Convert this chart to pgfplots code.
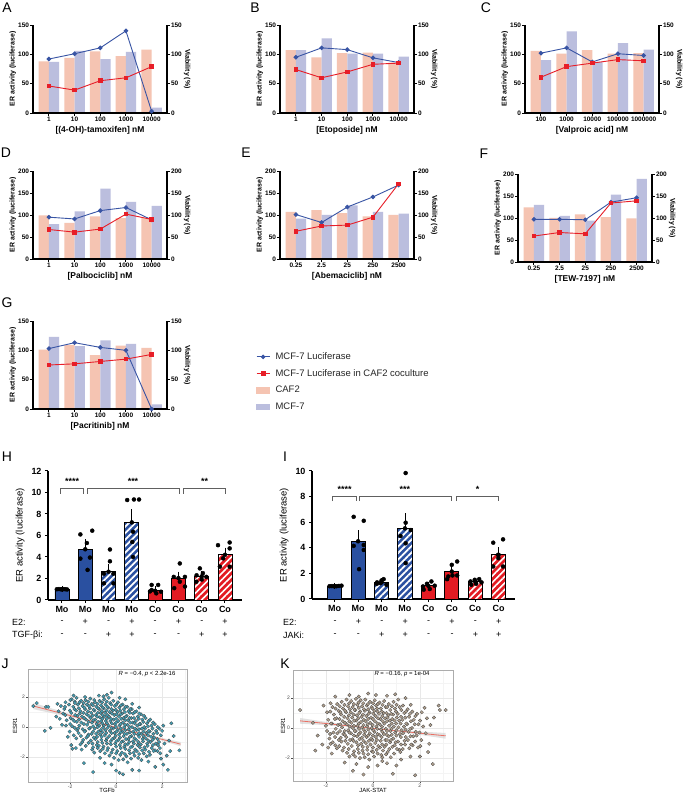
\documentclass[border=0pt]{standalone}
\usepackage{fontspec}
\setmainfont{Liberation Sans}
\usepackage{pgfplots}
\usepackage{pgfplotstable}
\pgfplotsset{compat=1.18}
\usetikzlibrary{patterns.meta}

\definecolor{caf}{RGB}{245,196,178}
\definecolor{mcf}{RGB}{187,190,222}
\definecolor{lumblue}{RGB}{56,84,164}
\definecolor{lumred}{RGB}{231,30,40}
\definecolor{barblue}{RGB}{42,80,160}
\definecolor{barred}{RGB}{227,27,35}
\definecolor{jfill}{RGB}{66,158,180}
\definecolor{kfill}{RGB}{176,160,142}
\definecolor{fit}{RGB}{234,112,100}

\newcommand\fsz[1]{\fontsize{#1}{#1}\selectfont}
\tikzset{bracket/.style={gray!75!black, line width=0.8bp}}

% dose panels: x = category index, caf/mcf = viability bars, mono/co = luciferase lines
\pgfplotstableread{
x caf mcf mono co
0 88 87 92 46
1 94 106 101 39
2 105 92 111 55
3 97 104 140 60
4 108 9 3 79
}\dA
\pgfplotstableread{
x caf mcf mono co
0 107 107 95 74
1 95 127 111 60
2 102 101 108 70
3 103 101 94 83
4 86 96 86 85
}\dB
\pgfplotstableread{
x caf mcf mono co
0 106 90 102 61
1 101 139 111 79
2 107 87 87 85
3 101 119 101 91
4 102 108 98 89
}\dC
\pgfplotstableread{
x caf mcf mono co
0 99 79 95 67
1 82 108 91 61
2 97 160 110 68
3 93 130 117 102
4 93 121 89 90
}\dD
\pgfplotstableread{
x caf mcf mono co
0 107 92 101 63
1 111 100 83 75
2 104 122 118 77
3 97 107 141 95
4 100 103 168 171
}\dE
\pgfplotstableread{
x caf mcf mono co
0 124 130 97 59
1 100 105 97 67
2 108 94 96 64
3 102 153 136 134
4 99 189 146 139
}\dF
\pgfplotstableread{
x caf mcf mono co
0 101 123 103 75
1 109 107 113 77
2 92 117 105 81
3 108 111 100 85
4 104 8 0 93
}\dG

\pgfplotsset{
  dose/.style={
    scale only axis, anchor=south west, width=134bp, height=88bp,
    xmin=-0.62, xmax=4.6, ymin=0,
    tick align=outside, major tick length=2.8bp,
    axis line style={line width=1.1bp},
    every tick/.style={black, line width=0.9bp},
    tick label style={font=\bfseries\fsz{6.5}, inner sep=1bp},
    ylabel style={font=\bfseries\fsz{7}, inner sep=1bp},
    xlabel style={font=\bfseries\fsz{8.5}},
    /pgf/number format/assume math mode=true,
    clip=false,
  },
  viab/.style={dose, axis y line*=right, axis x line=none,
    ylabel={Viability (\%)}, ylabel style={rotate=180}},
  erl/.style={dose, axis y line*=left, axis x line*=bottom,
    xtick={0,1,2,3,4}, ylabel={ER activity (luciferase)}},
  cafbar/.style={ybar, bar width=0.4, bar shift=0pt, fill=caf, draw=none},
  mcfbar/.style={ybar, bar width=0.4, bar shift=0pt, fill=mcf, draw=none},
  monoline/.style={lumblue, line width=0.9bp, mark=*, mark size=1.8bp},
  coline/.style={lumred, line width=0.9bp, mark=square*, mark size=1.8bp},
  % H and I
  coc/.style={
    scale only axis, anchor=south west, ymin=0,
    axis x line*=bottom, axis y line*=left,
    tick align=outside, major tick length=3bp,
    axis line style={line width=1.2bp},
    every tick/.style={black, line width=1bp},
    xtick={0,...,7}, xticklabels={Mo,Mo,Mo,Mo,Co,Co,Co,Co},
    tick label style={font=\bfseries\fsz{9}},
    ylabel={ER activity (luciferase)}, ylabel style={font=\fsz{9.5}},
    /pgf/number format/assume math mode=true,
    clip=false,
  },
  solidbar/.style={ybar, bar width=0.6, bar shift=0pt, fill=#1, draw=black, line width=0.9bp},
  hatchbar/.style={ybar, bar width=0.6, bar shift=0pt, draw=black, line width=0.9bp,
    preaction={fill=#1},
    pattern color=white, pattern={Lines[angle=45,distance=4.6bp,line width=1.7bp]}},
  sem/.style={only marks, mark=none, error bars/.cd, y dir=plus, y explicit,
    error bar style={black, line width=0.9bp},
    error mark options={black, line width=0.9bp, mark size=3bp}},
  dots/.style={only marks, mark=*, mark size=2bp, black},
  % J and K
  sc/.style={
    scale only axis, anchor=south west,
    axis line style={draw=gray!65, line width=0.7bp},
    xtick={-2,0,2}, ytick={-2,0,2}, xticklabels={-2,0,2}, yticklabels={-2,0,2},
    minor xtick={-3,-1,1,3}, minor ytick={-3,-1,1,3},
    grid=both, major grid style={draw=gray!18, line width=0.6bp},
    minor grid style={draw=gray!9, line width=0.35bp},
    tick align=outside, major tick length=2bp, minor tick length=0pt,
    every tick/.style={gray!60!black, line width=0.45bp},
    xtick pos=left, ytick pos=left,
    tick label style={font=\fsz{5}, text=gray!55!black, inner sep=1bp},
  },
  jpts/.style={only marks, mark=*, mark size=1.75bp, draw=black!75, fill=#1, line width=0.25bp},
}

\newcommand\dosepanel[5]{%
  \begin{axis}[viab, at={#1}, #3]
    \addplot[cafbar] table[x expr=\thisrow{x}-0.2, y=caf] {#2};
    \addplot[mcfbar] table[x expr=\thisrow{x}+0.2, y=mcf] {#2};
  \end{axis}
  \begin{axis}[erl, at={#1}, #3, xticklabels={#4}, xlabel={#5}]
    \addplot[monoline] table[x=x, y=mono] {#2};
    \addplot[coline] table[x=x, y=co] {#2};
  \end{axis}}

\begin{document}
\begin{tikzpicture}
\fill[white] (0,0) rectangle (685bp,795bp);
\path[use as bounding box] (0,0) rectangle (685bp,795bp);

\dosepanel{(33bp,682bp)}{\dA}{ymax=150,ytick={0,50,100,150}}{1,10,100,1000,10000}{[(4-OH)-tamoxifen] nM}
\dosepanel{(280bp,682bp)}{\dB}{ymax=150,ytick={0,50,100,150}}{1,10,100,1000,10000}{[Etoposide] nM}
\dosepanel{(525bp,682bp)}{\dC}{ymax=150,ytick={0,50,100,150}}{100,1000,10000,100000,1000000}{[Valproic acid] nM}
\dosepanel{(33bp,536bp)}{\dD}{ymax=200,ytick={0,50,100,150,200}}{1,10,100,1000,10000}{[Palbociclib] nM}
\dosepanel{(280bp,536bp)}{\dE}{ymax=200,ytick={0,50,100,150,200}}{0.25,2.5,25,250,2500}{[Abemaciclib] nM}
\dosepanel{(518bp,533bp)}{\dF}{ymax=200,ytick={0,50,100,150,200}}{0.25,2.5,25,250,2500}{[TEW-7197] nM}
\dosepanel{(33bp,386bp)}{\dG}{ymax=150,ytick={0,50,100,150}}{1,10,100,1000,10000}{[Pacritinib] nM}

% legend
\begin{axis}[hide axis, scale only axis, width=5bp, height=5bp, at={(256bp,444bp)}, anchor=north west,
  xmin=0, xmax=1, ymin=0, ymax=1,
  legend style={at={(0,1)}, anchor=north west, draw=none, fill=none, inner sep=0pt, row sep=5.4bp,
    font=\fsz{9.5}, text=black!85, nodes={inner sep=1.5bp},
    /tikz/every odd column/.append style={column sep=4bp}},
  legend cell align=left]
\addlegendimage{legend image code/.code={\draw[lumblue, line width=0.9bp, mark=*, mark size=1.8bp, mark repeat=2, mark phase=2] plot coordinates {(0bp,0bp) (6.5bp,0bp) (13bp,0bp)};}}
\addlegendentry{MCF-7 Luciferase}
\addlegendimage{legend image code/.code={\draw[lumred, line width=0.9bp, mark=square*, mark size=1.8bp, mark repeat=2, mark phase=2] plot coordinates {(0bp,0bp) (6.5bp,0bp) (13bp,0bp)};}}
\addlegendentry{MCF-7 Luciferase in CAF2 coculture}
\addlegendimage{legend image code/.code={\fill[caf] (0bp,-2.6bp) rectangle (13bp,2.6bp);}}
\addlegendentry{CAF2}
\addlegendimage{legend image code/.code={\fill[mcf] (0bp,-2.6bp) rectangle (13bp,2.6bp);}}
\addlegendentry{MCF-7}
\end{axis}

% H
\begin{axis}[coc, at={(48bp,195bp)}, width=194bp, height=129bp,
  xmin=-0.6, xmax=7.73, ymax=12, ytick={0,2,...,12}]
\addplot[solidbar=barblue] coordinates {(0,1.0) (1,4.72)};
\addplot[hatchbar=barblue] coordinates {(2,2.63) (3,7.22)};
\addplot[solidbar=barred] coordinates {(4,0.85) (5,2.04)};
\addplot[hatchbar=barred] coordinates {(6,2.2) (7,4.2)};
\addplot[sem] coordinates {(0,1.0) +- (0,0.03) (1,4.72) +- (0,0.63) (2,2.63) +- (0,0.47) (3,7.22) +- (0,0.93)
  (4,0.85) +- (0,0.13) (5,2.04) +- (0,0.33) (6,2.2) +- (0,0.22) (7,4.2) +- (0,0.4)};
\addplot[dots] coordinates {
  (-0.22,1.0) (-0.13,1.02) (-0.04,0.99) (0.05,1.01) (0.14,1.0) (0.22,0.98)
  (0.79,6.1) (1.3,6.45) (1.07,5.3) (1.2,3.95) (1.1,2.8) (0.79,3.85)
  (2.06,4.7) (2.06,3.6) (1.8,2.45) (2.21,2.45) (1.8,1.55) (2.21,1.55)
  (2.8,9.3) (3.09,9.35) (3.31,9.35) (3.05,6.35) (3.02,5.4) (3.05,4.0)
  (3.85,1.4) (4.13,1.4) (3.85,0.93) (4.05,0.62) (4.25,0.77) (3.78,0.8)
  (5.06,3.4) (4.8,2.15) (5.28,2.15) (5.06,1.7) (4.82,1.1) (5.28,1.25)
  (5.92,2.94) (5.78,2.3) (6.05,2.5) (5.77,1.7) (6.2,2.15) (6.0,1.9)
  (6.7,5.1) (7.2,5.35) (7.2,4.8) (6.92,3.87) (6.78,3.1) (7.2,3.1)};
\draw[bracket] (axis cs:-0.05,9.9) |- (axis cs:0.92,10.36) -- (axis cs:0.92,9.9);
\draw[bracket] (axis cs:1.08,9.9) |- (axis cs:5.05,10.36) -- (axis cs:5.05,9.9);
\draw[bracket] (axis cs:5.22,9.9) |- (axis cs:7.03,10.36) -- (axis cs:7.03,9.9);
\node[font=\bfseries\fsz{9}] at (axis cs:0.44,11.05) {****};
\node[font=\bfseries\fsz{9}] at (axis cs:3.05,11.05) {***};
\node[font=\bfseries\fsz{9}] at (axis cs:6.12,11.05) {**};
\end{axis}

% I
\begin{axis}[coc, at={(312bp,196bp)}, width=203bp, height=128bp,
  xmin=-0.97, xmax=7.70, ymax=10, ytick={0,2,...,10}]
\addplot[solidbar=barblue] coordinates {(0,1.0) (1,4.51)};
\addplot[hatchbar=barblue] coordinates {(2,1.3) (3,5.52)};
\addplot[solidbar=barred] coordinates {(4,1.03) (5,2.15)};
\addplot[hatchbar=barred] coordinates {(6,1.36) (7,3.45)};
\addplot[sem] coordinates {(0,1.0) +- (0,0.03) (1,4.51) +- (0,0.64) (2,1.3) +- (0,0.07) (3,5.52) +- (0,0.96)
  (4,1.03) +- (0,0.1) (5,2.15) +- (0,0.3) (6,1.36) +- (0,0.07) (7,3.45) +- (0,0.35)};
\addplot[dots] coordinates {
  (-0.22,1.0) (-0.12,1.01) (-0.02,0.99) (0.08,1.0) (0.18,1.02) (0.29,1.04)
  (0.81,6.42) (1.24,6.11) (0.81,4.15) (1.24,4.22) (1.24,3.83) (1.04,2.33)
  (1.81,1.3) (2.09,1.55) (1.95,1.24) (2.21,1.11) (1.8,1.19) (2.0,1.45)
  (3.03,9.84) (3.03,5.96) (2.81,4.92) (3.25,5.39) (3.03,4.35) (3.03,2.8)
  (3.77,0.98) (4.13,1.37) (3.94,1.19) (4.27,1.04) (3.8,0.73) (4.06,0.78)
  (5.0,2.67) (5.23,2.93) (4.8,1.55) (5.03,1.84) (5.23,1.84) (4.85,1.76)
  (5.8,1.37) (5.98,1.5) (6.17,1.55) (5.83,1.11) (6.04,1.19) (6.27,1.3)
  (6.77,4.4) (7.19,4.66) (6.98,3.45) (6.77,2.54) (7.19,2.54) (6.99,3.19)};
\draw[bracket] (axis cs:-0.1,7.64) |- (axis cs:0.92,7.98) -- (axis cs:0.92,7.64);
\draw[bracket] (axis cs:1.05,7.64) |- (axis cs:5.0,7.98) -- (axis cs:5.0,7.64);
\draw[bracket] (axis cs:5.2,7.64) |- (axis cs:7.0,7.98) -- (axis cs:7.0,7.64);
\node[font=\bfseries\fsz{9}] at (axis cs:0.42,8.55) {****};
\node[font=\bfseries\fsz{9}] at (axis cs:3.0,8.55) {***};
\node[font=\bfseries\fsz{9}] at (axis cs:6.1,8.55) {*};
\end{axis}

% treatment rows
\foreach \s [count=\k from 0] in {-,+,-,+,-,+,-,+}
  \node[font=\fsz{9}] at ({62bp+23.3bp*\k},173bp) {\s};
\foreach \s [count=\k from 0] in {-,-,+,+,-,-,+,+}
  \node[font=\fsz{9}] at ({62bp+23.3bp*\k},160bp) {\s};
\foreach \s [count=\k from 0] in {-,+,-,+,-,+,-,+}
  \node[font=\fsz{9}] at ({335bp+23.4bp*\k},173bp) {\s};
\foreach \s [count=\k from 0] in {-,-,+,+,-,-,+,+}
  \node[font=\fsz{9}] at ({335bp+23.4bp*\k},160bp) {\s};
\node[font=\fsz{9}, anchor=west, inner sep=0pt] at (12bp,173bp) {E2:};
\node[font=\fsz{9}, anchor=west, inner sep=0pt] at (12bp,160bp) {TGF-βi:};
\node[font=\fsz{9}, anchor=west, inner sep=0pt] at (283bp,173bp) {E2:};
\node[font=\fsz{9}, anchor=west, inner sep=0pt] at (283bp,160bp) {JAKi:};

% J
\begin{axis}[sc, at={(28bp,13bp)}, width=159bp, height=113bp,
  xmin=-3.83, xmax=3.08, ymin=-3.66, ymax=3.87]
\addplot[jpts=jfill] coordinates {
(-3.6,1.4) (-3.45,1.6) (-3.05,1.35) (-2.95,1.35) (-3.1,-0.25) (-2.85,-0.05) (-2.6,0.7) (-2.55,1.55) (-2.45,0.55)
(-2.5,1.05) (-2.3,0.9) (-2.35,0.15) (-2.2,1.65) (-2.15,0.45) (-2.1,-0.65) (-2.05,1.5) (-1.95,-1.2) (-1.9,-1.45)
(-1.85,2.1) (-1.8,1.7) (-1.75,-1.4) (-1.7,-0.2) (-1.5,-1.5) (-1.55,-1.15) (-2.25,1.2) (-2.0,0.2) (-2.4,1.4)
(-1.0,-3.0) (-1.4,-2.4) (0.0,-2.9) (0.15,-3.05) (0.3,-3.15) (0.7,-2.85) (1.0,-2.9) (1.7,-2.65) (2.05,-2.5)
(2.25,-2.85) (-0.5,-2.4) (-0.7,-2.05) (0.5,-2.35) (1.4,-2.3) (-0.2,-2.5)
(-0.4,2.15) (-0.2,2.3) (-0.55,2.05) (0.4,1.85) (-1.35,2.0) (-0.95,1.8) (0.15,1.95) (-0.75,2.1) (0.7,1.55) (1.0,1.3)
(2.4,0.25) (2.75,-1.55) (2.5,-0.6) (2.2,-1.9) (2.35,-1.6) (2.0,-0.25) (1.8,-0.8) (1.9,-1.4) (2.1,-1.1) (2.3,-0.9)
(2.05,0.1) (1.95,-2.1)
(-1.93,1.85) (-1.86,1.35) (-1.95,0.95) (-1.88,0.5) (-1.91,0.05) (-1.84,-0.55)
(-1.72,1.95) (-1.66,1.5) (-1.74,1.1) (-1.68,0.75) (-1.71,0.35) (-1.65,-0.1) (-1.73,-0.75)
(-1.52,1.75) (-1.46,1.4) (-1.55,1.05) (-1.48,0.7) (-1.51,0.3) (-1.45,-0.15) (-1.53,-0.6) (-1.47,-1.0)
(-1.33,1.8) (-1.27,1.5) (-1.35,1.2) (-1.28,0.85) (-1.31,0.5) (-1.26,0.15) (-1.34,-0.25) (-1.29,-0.7) (-1.32,-1.25)
(-1.12,1.9) (-1.06,1.55) (-1.14,1.25) (-1.08,0.95) (-1.11,0.6) (-1.05,0.3) (-1.13,-0.05) (-1.07,-0.45) (-1.1,-0.9) (-1.04,-1.5)
(-0.92,1.65) (-0.86,1.35) (-0.94,1.1) (-0.88,0.8) (-0.91,0.5) (-0.85,0.2) (-0.93,-0.1) (-0.87,-0.45) (-0.9,-0.8) (-0.84,-1.2) (-0.95,-1.7)
(-0.72,1.75) (-0.66,1.45) (-0.74,1.2) (-0.68,0.95) (-0.71,0.65) (-0.65,0.4) (-0.73,0.1) (-0.67,-0.2) (-0.7,-0.5) (-0.64,-0.85) (-0.75,-1.25) (-0.69,-1.6)
(-0.52,1.85) (-0.46,1.5) (-0.54,1.25) (-0.48,0.95) (-0.51,0.7) (-0.45,0.4) (-0.53,0.1) (-0.47,-0.2) (-0.5,-0.55) (-0.44,-0.9) (-0.55,-1.3) (-0.49,-1.75)
(-0.32,1.95) (-0.26,1.6) (-0.34,1.3) (-0.28,1.0) (-0.31,0.7) (-0.25,0.4) (-0.33,0.1) (-0.27,-0.25) (-0.3,-0.6) (-0.24,-0.95) (-0.35,-1.4) (-0.29,-1.9)
(-0.12,1.75) (-0.06,1.4) (-0.14,1.1) (-0.08,0.8) (-0.11,0.5) (-0.05,0.2) (-0.13,-0.1) (-0.07,-0.4) (-0.1,-0.75) (-0.04,-1.1) (-0.15,-1.5) (-0.09,-2.05)
(0.08,1.65) (0.14,1.3) (0.06,1.0) (0.12,0.7) (0.09,0.4) (0.15,0.1) (0.07,-0.2) (0.13,-0.5) (0.1,-0.85) (0.16,-1.2) (0.05,-1.6) (0.11,-2.2)
(0.28,1.5) (0.34,1.2) (0.26,0.9) (0.32,0.6) (0.29,0.3) (0.35,0.0) (0.27,-0.3) (0.33,-0.6) (0.3,-0.95) (0.36,-1.3) (0.25,-1.7) (0.31,-2.15)
(0.48,1.35) (0.54,1.05) (0.46,0.75) (0.52,0.45) (0.49,0.15) (0.55,-0.15) (0.47,-0.45) (0.53,-0.8) (0.5,-1.15) (0.56,-1.55) (0.45,-1.95)
(0.68,1.2) (0.74,0.9) (0.66,0.6) (0.72,0.3) (0.69,0.0) (0.75,-0.3) (0.67,-0.6) (0.73,-0.95) (0.7,-1.3) (0.76,-1.7) (0.65,-2.1)
(0.88,1.05) (0.94,0.7) (0.86,0.4) (0.92,0.1) (0.89,-0.2) (0.95,-0.5) (0.87,-0.85) (0.93,-1.2) (0.9,-1.6) (0.96,-2.05)
(1.08,0.85) (1.14,0.5) (1.06,0.2) (1.12,-0.1) (1.09,-0.45) (1.15,-0.8) (1.07,-1.15) (1.13,-1.55) (1.1,-2.2)
(1.28,0.6) (1.34,0.25) (1.26,-0.1) (1.32,-0.4) (1.29,-0.75) (1.35,-1.1) (1.27,-1.5) (1.33,-1.95)
(1.48,0.5) (1.54,0.1) (1.46,-0.3) (1.52,-0.65) (1.49,-1.0) (1.55,-1.4) (1.47,-1.85)
(1.68,0.2) (1.74,-0.25) (1.66,-0.7) (1.72,-1.1) (1.69,-1.55)
(1.88,-0.1) (1.94,-0.55) (1.86,-1.0) (1.92,-1.75)
(-0.6,0.55) (-0.4,0.25) (-0.2,-0.05) (0.0,0.3) (0.2,-0.35) (0.4,0.45) (-0.8,0.95) (0.6,-0.65) (-1.0,0.05) (0.8,0.25)
(-0.2,1.2) (0.2,0.85) (0.0,-1.3) (-0.4,-1.1) (0.4,-1.45) (-1.2,-0.5) (1.0,-0.65) (-0.6,-0.35) (0.6,0.95) (-0.8,-1.0)
(-1.79,1.6) (-1.81,1.2) (-1.78,0.8) (-1.82,0.4) (-1.8,-0.05)
(-1.59,1.65) (-1.62,1.25) (-1.58,0.9) (-1.61,0.5) (-1.6,0.1) (-1.63,-0.4)
(-1.41,1.6) (-1.38,1.3) (-1.42,0.95) (-1.39,0.6) (-1.4,0.2) (-1.37,-0.3) (-1.43,-0.85)
(-1.21,1.7) (-1.18,1.4) (-1.22,1.05) (-1.19,0.75) (-1.2,0.35) (-1.17,-0.1) (-1.23,-0.6) (-1.2,-1.05)
(-1.01,1.45) (-0.98,1.15) (-1.02,0.75) (-0.99,0.45) (-1.0,-0.3) (-0.97,-0.7) (-1.03,-1.1) (-1.0,-1.35)
(-0.81,1.55) (-0.78,1.25) (-0.82,0.7) (-0.79,0.35) (-0.8,0.0) (-0.77,-0.3) (-0.83,-0.65) (-0.8,-1.4)
(-0.61,1.65) (-0.58,1.3) (-0.62,1.05) (-0.59,0.8) (-0.6,0.25) (-0.57,-0.05) (-0.63,-0.65) (-0.6,-1.05) (-0.58,-1.45)
(-0.41,1.7) (-0.38,1.35) (-0.42,1.1) (-0.39,0.8) (-0.4,0.55) (-0.37,-0.05) (-0.43,-0.4) (-0.4,-0.75) (-0.38,-1.55)
(-0.21,1.5) (-0.18,0.9) (-0.22,0.55) (-0.19,0.25) (-0.2,-0.4) (-0.17,-0.8) (-0.23,-1.15) (-0.2,-1.7)
(0.01,1.5) (-0.02,1.15) (0.02,0.85) (0.0,0.55) (-0.01,0.0) (0.02,-0.3) (-0.02,-0.6) (0.01,-0.95) (0.0,-1.75)
(0.21,1.45) (0.18,1.1) (0.22,0.55) (0.19,0.2) (0.2,-0.1) (0.17,-0.7) (0.23,-1.0) (0.2,-1.4) (0.18,-1.85)
(0.41,1.35) (0.38,1.0) (0.42,0.7) (0.39,0.15) (0.4,-0.2) (0.37,-0.45) (0.43,-0.8) (0.4,-1.15) (0.38,-1.8)
(0.61,1.2) (0.58,0.6) (0.62,0.3) (0.59,0.0) (0.6,-0.35) (0.57,-1.0) (0.63,-1.35) (0.6,-1.75)
(0.81,1.0) (0.78,0.6) (0.82,-0.1) (0.79,-0.45) (0.8,-0.75) (0.77,-1.1) (0.83,-1.5) (0.8,-1.9)
(1.01,0.9) (0.98,0.55) (1.02,0.2) (0.99,-0.15) (1.0,-0.4) (0.97,-1.0) (1.03,-1.35) (1.0,-1.8)
(1.21,0.75) (1.18,0.35) (1.22,0.0) (1.19,-0.3) (1.2,-0.6) (1.17,-0.95) (1.23,-1.35) (1.2,-1.75)
(1.41,0.4) (1.38,0.05) (1.42,-0.25) (1.39,-0.55) (1.4,-0.9) (1.37,-1.25) (1.43,-1.65)
(1.61,0.3) (1.58,-0.1) (1.62,-0.45) (1.59,-0.85) (1.6,-1.2) (1.63,-1.6)
(1.81,0.0) (1.78,-0.4) (1.82,-1.2) (1.8,-1.6)
(-2.21,0.8) (-2.18,0.1) (-2.22,1.35) (-2.01,1.1) (-1.98,0.6) (-2.02,-0.3) (-1.99,1.8)};
\addplot[fill=gray!50, fill opacity=0.45, draw=none] coordinates {
(-3.6,1.614) (-2,0.869) (-1,0.437) (0,0.025) (1,-0.357) (2,-0.726) (2.8,-0.997)
(2.8,-1.277) (2,-0.912) (1,-0.487) (0,-0.075) (-1,0.307) (-2,0.669) (-3.6,1.194)};
\addplot[fit, line width=0.8bp] coordinates {(-3.6,1.404) (2.8,-1.137)};
\end{axis}

% K
\begin{axis}[sc, at={(293bp,14bp)}, width=160bp, height=111bp,
  xmin=-3.4, xmax=3.41, ymin=-3.53, ymax=3.87]
\addplot[jpts=kfill] coordinates {
(-3.1,1.2) (-2.55,0.35) (-2.35,-0.5) (-2.45,-1.5) (-2.1,1.5) (-1.95,1.05) (-1.9,0.55) (-1.95,-0.2) (-1.85,-0.7)
(-1.75,-1.7) (-2.0,0.15) (-1.8,1.65) (-2.15,-1.1) (-1.9,-1.3) (-1.6,2.1)
(0.13,2.2) (-0.6,2.1) (1.39,2.0) (-0.2,2.3) (0.6,2.15) (-1.0,2.2) (0.95,2.25)
(2.8,1.5) (2.85,1.2) (3.1,1.2) (2.45,0.2) (2.55,-2.4) (2.3,0.65) (2.25,-0.35) (2.4,-1.05) (2.6,0.7) (2.2,1.35)
(2.35,-1.6) (2.0,-1.9)
(-0.85,-2.85) (-0.4,-3.1) (0.85,-3.05) (1.8,-3.15) (-0.2,-2.6) (0.6,-2.35) (0.2,-2.5) (-1.2,-2.3) (1.2,-2.1)
(1.6,-1.9) (-0.7,-2.4) (0.4,-2.2) (1.0,-2.5)
(-1.72,1.4) (-1.66,0.9) (-1.74,0.3) (-1.68,-0.3) (-1.71,-0.95)
(-1.52,1.6) (-1.46,1.15) (-1.55,0.65) (-1.48,0.2) (-1.51,-0.35) (-1.45,-0.8) (-1.53,-1.35)
(-1.33,1.75) (-1.27,1.3) (-1.35,0.9) (-1.28,0.45) (-1.31,0.05) (-1.26,-0.4) (-1.34,-0.9) (-1.29,-1.5)
(-1.12,1.9) (-1.06,1.45) (-1.14,1.05) (-1.08,0.65) (-1.11,0.25) (-1.05,-0.15) (-1.13,-0.6) (-1.07,-1.05) (-1.1,-1.65)
(-0.92,1.8) (-0.86,1.4) (-0.94,1.05) (-0.88,0.7) (-0.91,0.35) (-0.85,0.0) (-0.93,-0.35) (-0.87,-0.75) (-0.9,-1.2) (-0.84,-1.75)
(-0.72,1.95) (-0.66,1.55) (-0.74,1.2) (-0.68,0.85) (-0.71,0.5) (-0.65,0.15) (-0.73,-0.2) (-0.67,-0.55) (-0.7,-0.95) (-0.64,-1.4) (-0.75,-1.9)
(-0.52,1.85) (-0.46,1.45) (-0.54,1.1) (-0.48,0.75) (-0.51,0.4) (-0.45,0.05) (-0.53,-0.3) (-0.47,-0.65) (-0.5,-1.05) (-0.44,-1.5) (-0.55,-2.0)
(-0.32,1.9) (-0.26,1.5) (-0.34,1.15) (-0.28,0.8) (-0.31,0.45) (-0.25,0.1) (-0.33,-0.25) (-0.27,-0.6) (-0.3,-1.0) (-0.24,-1.45) (-0.35,-1.95)
(-0.12,1.75) (-0.06,1.4) (-0.14,1.05) (-0.08,0.7) (-0.11,0.35) (-0.05,0.0) (-0.13,-0.35) (-0.07,-0.7) (-0.1,-1.1) (-0.04,-1.55) (-0.15,-2.1)
(0.08,1.85) (0.14,1.5) (0.06,1.15) (0.12,0.8) (0.09,0.45) (0.15,0.1) (0.07,-0.25) (0.13,-0.6) (0.1,-1.0) (0.16,-1.45) (0.05,-1.9)
(0.28,1.7) (0.34,1.3) (0.26,0.95) (0.32,0.6) (0.29,0.25) (0.35,-0.1) (0.27,-0.45) (0.33,-0.85) (0.3,-1.3) (0.36,-1.8)
(0.48,1.8) (0.54,1.4) (0.46,1.0) (0.52,0.65) (0.49,0.3) (0.55,-0.05) (0.47,-0.4) (0.53,-0.8) (0.5,-1.25) (0.56,-1.75)
(0.68,1.6) (0.74,1.2) (0.66,0.85) (0.72,0.5) (0.69,0.15) (0.75,-0.2) (0.67,-0.55) (0.73,-0.95) (0.7,-1.4) (0.76,-1.95)
(0.88,1.75) (0.94,1.3) (0.86,0.9) (0.92,0.5) (0.89,0.1) (0.95,-0.3) (0.87,-0.7) (0.93,-1.15) (0.9,-1.7)
(1.08,1.9) (1.14,1.4) (1.06,0.95) (1.12,0.5) (1.09,0.05) (1.15,-0.4) (1.07,-0.9) (1.13,-1.45)
(1.28,1.5) (1.34,1.0) (1.26,0.55) (1.32,0.1) (1.29,-0.35) (1.35,-0.85) (1.27,-1.4)
(1.48,1.25) (1.54,0.75) (1.46,0.25) (1.52,-0.25) (1.49,-0.8) (1.55,-1.35)
(1.68,1.1) (1.74,0.55) (1.66,0.0) (1.72,-0.55) (1.69,-1.15)
(1.88,0.95) (1.94,0.25) (1.86,-0.5) (1.92,-1.3)
(2.08,1.05) (2.14,0.1) (2.06,-0.8)
(-0.6,0.3) (-0.4,-0.1) (-0.2,0.6) (0.0,-0.5) (0.2,0.3) (0.4,0.8) (-0.8,-0.5) (0.6,-0.2) (-1.0,0.45) (0.8,0.3)
(-0.2,1.25) (0.2,1.1) (0.0,-1.3) (-0.4,-0.85) (0.4,-1.1) (-1.2,-0.2) (1.0,-0.5) (-0.6,1.35) (0.6,0.45) (1.2,0.75)
(-1.59,1.3) (-1.62,0.6) (-1.58,-0.05) (-1.61,-0.6) (-1.6,-1.15)
(-1.41,1.45) (-1.38,1.05) (-1.42,0.6) (-1.39,0.25) (-1.4,-0.2) (-1.37,-0.65) (-1.43,-1.2)
(-1.21,1.55) (-1.18,1.15) (-1.22,0.75) (-1.19,0.35) (-1.2,-0.45) (-1.17,-0.85) (-1.23,-1.3)
(-1.01,1.65) (-0.98,1.25) (-1.02,0.85) (-0.99,0.1) (-1.0,-0.3) (-0.97,-0.8) (-1.03,-1.4) (-1.0,-1.9)
(-0.81,1.6) (-0.78,1.2) (-0.82,0.9) (-0.79,0.5) (-0.8,0.15) (-0.77,-0.2) (-0.83,-0.85) (-0.8,-1.55)
(-0.61,1.7) (-0.58,1.0) (-0.62,0.65) (-0.59,-0.05) (-0.6,-0.4) (-0.57,-0.75) (-0.63,-1.15) (-0.6,-1.65)
(-0.41,1.65) (-0.38,1.25) (-0.42,0.9) (-0.39,0.55) (-0.4,0.2) (-0.37,-0.45) (-0.43,-1.25) (-0.4,-1.7)
(-0.21,1.6) (-0.18,0.95) (-0.22,0.25) (-0.19,-0.1) (-0.2,-0.5) (-0.17,-0.85) (-0.23,-1.25) (-0.2,-1.75)
(0.01,1.65) (-0.02,1.3) (0.02,0.95) (0.0,0.6) (-0.01,0.2) (0.02,-0.15) (-0.02,-0.8) (0.01,-1.6)
(0.21,1.6) (0.18,1.3) (0.22,0.65) (0.19,-0.05) (0.2,-0.4) (0.17,-0.8) (0.23,-1.2) (0.2,-1.7)
(0.41,1.55) (0.38,1.1) (0.42,0.45) (0.39,0.1) (0.4,-0.25) (0.37,-0.6) (0.43,-1.5) (0.4,-1.95)
(0.61,1.4) (0.58,1.0) (0.62,0.7) (0.59,-0.45) (0.6,-0.8) (0.57,-1.1) (0.63,-1.6)
(0.81,1.45) (0.78,0.95) (0.82,0.6) (0.79,-0.05) (0.8,-0.45) (0.77,-0.8) (0.83,-1.25)
(1.01,1.55) (0.98,1.1) (1.02,0.7) (0.99,0.3) (1.0,-0.15) (0.97,-0.95) (1.03,-1.4)
(1.21,1.2) (1.18,0.3) (1.22,-0.15) (1.19,-0.6) (1.2,-1.1) (1.17,-1.6)
(1.41,1.1) (1.38,0.7) (1.42,0.3) (1.39,-0.1) (1.4,-0.6) (1.37,-1.1)
(1.61,1.55) (1.58,0.95) (1.62,0.45) (1.59,-0.05) (1.6,-0.55) (1.63,-1.1)
(1.81,0.8) (1.78,0.25) (1.82,-0.25) (1.8,-0.9)
(2.01,0.5) (1.98,-0.3) (2.02,-1.2)
(-1.81,1.1) (-1.78,0.3) (-1.82,-0.4) (-1.8,-1.05)};
\addplot[fill=gray!50, fill opacity=0.45, draw=none] coordinates {
(-3.1,0.67) (-2,0.413) (-1,0.207) (0,0.03) (1,-0.116) (2,-0.232) (3.1,-0.33)
(3.1,-0.71) (2,-0.452) (1,-0.246) (0,-0.07) (-1,0.077) (-2,0.193) (-3.1,0.29)};
\addplot[fit, line width=0.8bp] coordinates {(-3.1,0.48) (3.1,-0.52)};
\end{axis}

% scatter labels
\node[font=\fsz{6}, rotate=90] at (15bp,69.5bp) {ESR1};
\node[font=\fsz{6}] at (107bp,4.5bp) {TGFb};
\node[font=\fsz{6}] at (147bp,121bp) {\textit{R} = −0.4, \textit{p} < 2.2e-16};
\node[font=\fsz{6}, rotate=90] at (283bp,69.5bp) {ESR1};
\node[font=\fsz{6}] at (373bp,4.5bp) {JAK-STAT};
\node[font=\fsz{6}] at (402bp,121bp) {\textit{R} = −0.16, \textit{p} = 1e-04};

% panel letters
\foreach \l/\x/\y in {A/7/787, B/255/787, C/486/787, D/6/642, E/246/642, F/484/641, G/7/492, H/7/338, I/285/338, J/5/131, K/285/131}
  \node[font=\fsz{14}] at (\x bp,\y bp) {\l};
\end{tikzpicture}
\end{document}
